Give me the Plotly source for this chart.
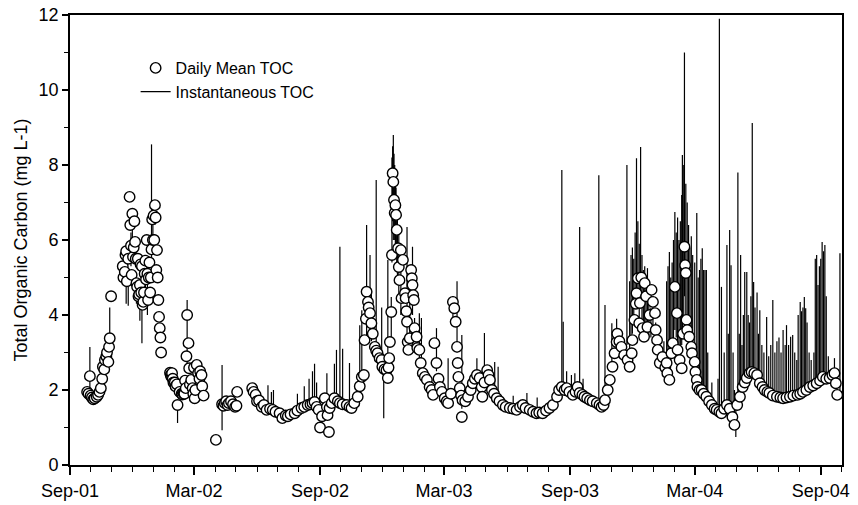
import plotly.graph_objects as go

# ---------------- Daily mean TOC (mg L-1) ----------------
mean_fall_2001 = [
    ("2001-09-26", 1.95), ("2001-09-28", 1.9), ("2001-09-30", 2.37), ("2001-10-01", 1.85),
    ("2001-10-03", 1.8), ("2001-10-05", 1.75), ("2001-10-07", 1.78), ("2001-10-10", 1.82),
    ("2001-10-12", 1.87), ("2001-10-14", 1.95), ("2001-10-16", 2.05), ("2001-10-18", 2.3),
    ("2001-10-19", 2.62), ("2001-10-21", 2.55), ("2001-10-22", 2.8), ("2001-10-24", 2.9),
    ("2001-10-25", 3.0), ("2001-10-27", 2.75), ("2001-10-28", 3.15), ("2001-10-29", 3.38),
    ("2001-10-31", 4.5),
]
mean_winter_2001 = [
    ("2001-11-17", 5.3), ("2001-11-18", 5.0), ("2001-11-20", 5.15), ("2001-11-21", 5.6),
    ("2001-11-22", 5.7), ("2001-11-23", 4.9), ("2001-11-25", 5.5), ("2001-11-27", 7.15),
    ("2001-11-28", 6.4), ("2001-11-29", 5.85), ("2001-11-30", 5.07), ("2001-12-01", 6.7),
    ("2001-12-02", 5.55), ("2001-12-03", 5.8), ("2001-12-04", 6.5), ("2001-12-05", 5.95),
    ("2001-12-06", 5.5), ("2001-12-07", 4.85), ("2001-12-08", 4.75), ("2001-12-09", 5.5),
    ("2001-12-10", 4.5), ("2001-12-11", 4.55), ("2001-12-12", 4.8), ("2001-12-13", 5.35),
    ("2001-12-14", 4.6), ("2001-12-15", 5.3), ("2001-12-16", 4.27), ("2001-12-17", 4.35),
    ("2001-12-18", 4.6), ("2001-12-19", 5.1), ("2001-12-20", 5.45), ("2001-12-21", 4.95),
    ("2001-12-22", 6.0), ("2001-12-23", 5.1), ("2001-12-24", 4.4), ("2001-12-25", 5.0),
    ("2001-12-26", 5.4), ("2001-12-27", 4.6), ("2001-12-28", 5.0), ("2001-12-29", 5.75),
    ("2001-12-30", 6.55), ("2001-12-31", 6.0), ("2002-01-01", 6.65), ("2002-01-02", 6.0),
    ("2002-01-03", 6.93), ("2002-01-04", 6.6), ("2002-01-05", 5.2), ("2002-01-06", 5.73),
    ("2002-01-07", 5.0), ("2002-01-08", 4.4), ("2002-01-09", 3.95), ("2002-01-10", 3.65),
    ("2002-01-11", 3.4), ("2002-01-12", 3.0),
]
mean_spring_2002 = [
    ("2002-01-25", 2.46), ("2002-01-26", 2.4), ("2002-01-27", 2.35), ("2002-01-28", 2.45),
    ("2002-01-29", 2.3), ("2002-01-30", 2.2), ("2002-02-01", 2.2), ("2002-02-02", 2.1),
    ("2002-02-04", 2.15), ("2002-02-05", 1.6), ("2002-02-08", 1.95), ("2002-02-11", 1.9),
    ("2002-02-12", 1.88), ("2002-02-14", 1.9), ("2002-02-15", 1.9), ("2002-02-16", 2.25),
    ("2002-02-17", 2.05), ("2002-02-18", 2.9), ("2002-02-19", 4.0), ("2002-02-21", 3.25),
    ("2002-02-22", 2.58), ("2002-02-23", 2.15), ("2002-02-25", 2.27), ("2002-02-27", 2.05),
    ("2002-02-28", 1.9), ("2002-03-01", 2.6), ("2002-03-02", 1.78), ("2002-03-03", 2.0),
    ("2002-03-05", 2.67), ("2002-03-07", 2.45), ("2002-03-09", 2.3), ("2002-03-10", 2.5),
    ("2002-03-12", 2.4), ("2002-03-13", 2.1), ("2002-03-15", 1.85),
    ("2002-04-02", 0.67),
    ("2002-04-11", 1.62), ("2002-04-13", 1.58), ("2002-04-15", 1.65), ("2002-04-17", 1.7),
    ("2002-04-19", 1.6), ("2002-04-21", 1.65), ("2002-04-24", 1.7), ("2002-04-27", 1.62),
    ("2002-04-30", 1.55), ("2002-05-02", 1.58), ("2002-05-03", 1.95),
]
mean_2002 = [
    ("2002-05-25", 2.05), ("2002-05-27", 1.95), ("2002-05-30", 1.87), ("2002-06-01", 1.7),
    ("2002-06-04", 1.72), ("2002-06-08", 1.55), ("2002-06-11", 1.6), ("2002-06-15", 1.47),
    ("2002-06-20", 1.5), ("2002-06-24", 1.47), ("2002-06-28", 1.42), ("2002-07-04", 1.38),
    ("2002-07-08", 1.25), ("2002-07-13", 1.32), ("2002-07-16", 1.3), ("2002-07-20", 1.35),
    ("2002-07-26", 1.38), ("2002-07-30", 1.45), ("2002-08-05", 1.52), ("2002-08-09", 1.55),
    ("2002-08-14", 1.6), ("2002-08-18", 1.62), ("2002-08-21", 1.65), ("2002-08-24", 1.68),
    ("2002-08-27", 1.55), ("2002-08-30", 1.47), ("2002-09-01", 1.0), ("2002-09-04", 1.3),
    ("2002-09-08", 1.78), ("2002-09-11", 1.55), ("2002-09-12", 1.33), ("2002-09-14", 0.88),
    ("2002-09-15", 1.52), ("2002-09-18", 1.65), ("2002-09-22", 1.78), ("2002-09-27", 1.7),
    ("2002-09-30", 1.65), ("2002-10-04", 1.62), ("2002-10-10", 1.6), ("2002-10-14", 1.55),
    ("2002-10-17", 1.52), ("2002-10-21", 1.65), ("2002-10-26", 1.82), ("2002-10-29", 2.1),
    ("2002-11-01", 2.35), ("2002-11-04", 2.4), ("2002-11-05", 3.33), ("2002-11-07", 3.9),
    ("2002-11-08", 4.62), ("2002-11-10", 4.35), ("2002-11-11", 4.2), ("2002-11-13", 4.05),
    ("2002-11-15", 3.78), ("2002-11-17", 3.5), ("2002-11-20", 3.15), ("2002-11-22", 3.05),
    ("2002-11-24", 2.98), ("2002-11-27", 2.85), ("2002-11-30", 2.8), ("2002-12-01", 2.62),
    ("2002-12-04", 2.55), ("2002-12-07", 2.53), ("2002-12-09", 2.32), ("2002-12-10", 2.6),
    ("2002-12-11", 2.85), ("2002-12-12", 3.28), ("2002-12-14", 4.08), ("2002-12-15", 5.6),
    ("2002-12-16", 7.78), ("2002-12-17", 7.55), ("2002-12-18", 7.07), ("2002-12-19", 6.72),
    ("2002-12-20", 6.93), ("2002-12-21", 6.67), ("2002-12-22", 6.27), ("2002-12-24", 5.78),
    ("2002-12-25", 5.28), ("2002-12-26", 4.93), ("2002-12-28", 5.73), ("2002-12-29", 4.45),
    ("2002-12-31", 5.47),
]
mean_2003 = [
    ("2003-01-03", 4.58), ("2003-01-04", 4.45), ("2003-01-05", 4.1), ("2003-01-06", 3.82),
    ("2003-01-07", 3.28), ("2003-01-08", 3.07), ("2003-01-10", 3.38), ("2003-01-12", 5.2),
    ("2003-01-13", 4.98), ("2003-01-14", 4.8), ("2003-01-15", 4.53), ("2003-01-16", 4.4),
    ("2003-01-17", 3.65), ("2003-01-20", 3.42), ("2003-01-21", 3.12), ("2003-01-24", 3.07),
    ("2003-01-26", 2.72), ("2003-01-29", 2.45), ("2003-02-01", 2.35), ("2003-02-04", 2.27),
    ("2003-02-08", 2.08), ("2003-02-11", 2.0), ("2003-02-13", 1.87), ("2003-02-15", 3.25),
    ("2003-02-18", 2.72), ("2003-02-21", 2.3), ("2003-02-23", 2.08), ("2003-02-26", 1.95),
    ("2003-03-02", 1.78), ("2003-03-05", 1.7), ("2003-03-07", 1.65), ("2003-03-11", 1.9),
    ("2003-03-14", 4.35), ("2003-03-16", 4.18), ("2003-03-18", 3.82), ("2003-03-20", 3.15),
    ("2003-03-21", 2.72), ("2003-03-22", 2.35), ("2003-03-24", 2.05), ("2003-03-26", 1.85),
    ("2003-03-27", 1.28), ("2003-03-28", 1.73), ("2003-04-01", 1.7), ("2003-04-05", 1.82),
    ("2003-04-09", 2.0), ("2003-04-12", 2.18), ("2003-04-15", 2.3), ("2003-04-18", 2.4),
    ("2003-04-22", 2.32), ("2003-04-25", 2.08), ("2003-04-26", 1.82), ("2003-04-29", 2.2),
    ("2003-05-03", 2.53), ("2003-05-05", 2.4), ("2003-05-07", 2.27), ("2003-05-10", 2.0),
    ("2003-05-13", 1.9), ("2003-05-17", 1.78), ("2003-05-21", 1.7), ("2003-05-26", 1.6),
    ("2003-05-30", 1.55), ("2003-06-05", 1.52), ("2003-06-10", 1.5), ("2003-06-15", 1.47),
    ("2003-06-20", 1.55), ("2003-06-24", 1.6), ("2003-06-28", 1.52), ("2003-07-04", 1.47),
    ("2003-07-09", 1.42), ("2003-07-14", 1.38), ("2003-07-18", 1.4), ("2003-07-23", 1.38),
    ("2003-07-28", 1.45), ("2003-08-02", 1.52), ("2003-08-07", 1.6), ("2003-08-13", 1.82),
    ("2003-08-16", 2.0), ("2003-08-20", 2.08), ("2003-08-24", 2.0), ("2003-08-27", 2.05),
    ("2003-08-31", 1.95), ("2003-09-05", 1.87), ("2003-09-09", 1.95), ("2003-09-12", 2.08),
    ("2003-09-15", 1.92), ("2003-09-19", 1.87), ("2003-09-22", 1.82), ("2003-09-26", 1.78),
    ("2003-09-30", 1.73), ("2003-10-04", 1.7), ("2003-10-10", 1.65), ("2003-10-14", 1.6),
    ("2003-10-17", 1.55), ("2003-10-20", 1.6), ("2003-10-22", 1.73), ("2003-10-26", 2.0),
    ("2003-10-29", 2.27), ("2003-11-02", 2.62), ("2003-11-05", 2.98), ("2003-11-08", 3.28),
    ("2003-11-09", 3.5), ("2003-11-12", 3.3), ("2003-11-15", 3.15), ("2003-11-19", 2.93),
    ("2003-11-24", 2.8), ("2003-11-27", 2.62), ("2003-11-30", 2.98), ("2003-12-01", 3.33),
    ("2003-12-04", 3.87), ("2003-12-06", 4.3), ("2003-12-07", 4.58), ("2003-12-09", 4.98),
    ("2003-12-11", 3.78), ("2003-12-12", 4.32), ("2003-12-14", 5.0), ("2003-12-16", 3.65),
    ("2003-12-18", 3.42), ("2003-12-19", 4.85), ("2003-12-21", 4.5), ("2003-12-23", 3.68),
    ("2003-12-26", 4.0), ("2003-12-29", 4.67), ("2003-12-31", 4.35),
]
mean_2004 = [
    ("2004-01-03", 4.05), ("2004-01-04", 3.6), ("2004-01-06", 3.33), ("2004-01-07", 3.07),
    ("2004-01-10", 2.72), ("2004-01-14", 2.88), ("2004-01-18", 2.6), ("2004-01-20", 2.72),
    ("2004-01-21", 2.45), ("2004-01-24", 2.27), ("2004-01-27", 2.98), ("2004-01-29", 3.25),
    ("2004-02-01", 4.75), ("2004-02-04", 4.05), ("2004-02-05", 3.07), ("2004-02-08", 2.8),
    ("2004-02-11", 2.58), ("2004-02-13", 3.5), ("2004-02-15", 5.82), ("2004-02-16", 5.33),
    ("2004-02-17", 5.12), ("2004-02-18", 3.87), ("2004-02-19", 3.6), ("2004-02-22", 3.42),
    ("2004-02-25", 3.15), ("2004-02-26", 2.98), ("2004-03-01", 2.75), ("2004-03-02", 2.48),
    ("2004-03-04", 2.27), ("2004-03-05", 2.08), ("2004-03-08", 2.0), ("2004-03-11", 2.0),
    ("2004-03-14", 1.9), ("2004-03-18", 1.82), ("2004-03-22", 1.7), ("2004-03-26", 1.6),
    ("2004-03-30", 1.5), ("2004-04-02", 1.47), ("2004-04-06", 1.42), ("2004-04-09", 1.38),
    ("2004-04-13", 1.5), ("2004-04-17", 1.6), ("2004-04-21", 1.5), ("2004-04-25", 1.28),
    ("2004-04-28", 1.07), ("2004-05-02", 1.6), ("2004-05-06", 1.82), ("2004-05-10", 2.08),
    ("2004-05-13", 2.2), ("2004-05-16", 2.32), ("2004-05-20", 2.45), ("2004-05-23", 2.48),
    ("2004-05-27", 2.45), ("2004-05-31", 2.4), ("2004-06-04", 2.18), ("2004-06-08", 2.08),
    ("2004-06-11", 2.0), ("2004-06-15", 1.95), ("2004-06-18", 1.92), ("2004-06-23", 1.85),
    ("2004-06-29", 1.82), ("2004-07-04", 1.8), ("2004-07-08", 1.78), ("2004-07-13", 1.8),
    ("2004-07-18", 1.82), ("2004-07-23", 1.85), ("2004-07-29", 1.87), ("2004-08-02", 1.9),
    ("2004-08-06", 1.95), ("2004-08-11", 2.0), ("2004-08-16", 2.08), ("2004-08-21", 2.12),
    ("2004-08-26", 2.18), ("2004-08-31", 2.25), ("2004-09-04", 2.35), ("2004-09-09", 2.3),
    ("2004-09-14", 2.32), ("2004-09-18", 2.4), ("2004-09-21", 2.45), ("2004-09-23", 2.18),
    ("2004-09-25", 1.87),
]

# ------------- Instantaneous TOC: (date, daily min, daily max), mg L-1 -------------
inst_2001_2002 = [
    ("2001-09-30", 1.95, 3.15), ("2001-10-29", 3.3, 4.2), ("2001-11-22", 4.3, 5.4),
    ("2001-11-25", 4.25, 5.1), ("2001-11-29", 5.3, 6.2), ("2001-12-01", 5.9, 6.8),
    ("2001-12-07", 4.3, 5.0), ("2001-12-12", 3.85, 4.8), ("2001-12-15", 3.25, 4.3),
    ("2001-12-20", 4.6, 5.6), ("2001-12-23", 4.0, 5.0), ("2001-12-29", 5.5, 8.55),
    ("2001-12-31", 5.6, 6.5), ("2002-01-03", 6.4, 7.0),
    ("2002-02-02", 2.1, 2.4), ("2002-02-05", 1.12, 1.7), ("2002-02-19", 2.6, 4.4),
    ("2002-04-11", 0.93, 2.67), ("2002-06-17", 1.5, 2.13), ("2002-06-22", 1.45, 1.95),
    ("2002-06-25", 1.45, 2.0), ("2002-07-30", 1.4, 1.9), ("2002-08-09", 1.55, 2.1),
    ("2002-08-16", 1.6, 2.3), ("2002-08-21", 1.65, 2.5), ("2002-08-24", 1.65, 2.7),
    ("2002-08-27", 1.5, 2.2), ("2002-09-11", 1.5, 2.45), ("2002-09-22", 1.7, 2.7),
    ("2002-09-25", 1.7, 3.07), ("2002-09-30", 1.65, 5.82), ("2002-10-04", 1.6, 3.1),
    ("2002-10-14", 1.55, 2.72), ("2002-10-29", 1.9, 3.73), ("2002-11-01", 2.3, 4.13),
    ("2002-11-08", 3.3, 6.4), ("2002-11-13", 3.5, 5.6), ("2002-11-15", 3.3, 4.7),
    ("2002-11-22", 2.9, 7.6), ("2002-11-30", 2.5, 4.2), ("2002-12-03", 1.25, 2.8),
    ("2002-12-09", 2.3, 5.47), ("2002-12-14", 3.3, 4.48), ("2002-12-15", 5.4, 8.2),
    ("2002-12-16", 6.5, 8.5), ("2002-12-17", 6.0, 8.8), ("2002-12-18", 6.2, 8.3),
    ("2002-12-19", 6.0, 8.0), ("2002-12-20", 5.8, 7.6), ("2002-12-21", 5.5, 7.4),
    ("2002-12-22", 5.2, 7.0), ("2002-12-23", 5.0, 6.8), ("2002-12-25", 4.5, 6.27),
    ("2002-12-28", 4.0, 5.9),
]
inst_2003 = [
    ("2003-01-06", 3.0, 6.35), ("2003-01-10", 3.0, 4.85), ("2003-01-14", 4.0, 5.82),
    ("2003-01-17", 3.3, 3.92), ("2003-01-24", 2.8, 4.05), ("2003-01-27", 2.5, 3.92),
    ("2003-02-18", 2.5, 3.65), ("2003-03-07", 1.7, 2.85), ("2003-03-14", 3.9, 4.5),
    ("2003-03-20", 3.0, 4.9), ("2003-03-27", 1.5, 3.47), ("2003-04-18", 2.2, 2.85),
    ("2003-04-29", 2.2, 3.52), ("2003-05-14", 1.8, 2.75), ("2003-05-19", 1.7, 2.62),
    ("2003-06-10", 1.5, 1.85), ("2003-06-30", 1.4, 1.92), ("2003-07-15", 1.4, 1.8),
    ("2003-08-20", 2.1, 7.87), ("2003-08-22", 2.1, 3.82), ("2003-08-27", 2.0, 2.5),
    ("2003-09-03", 1.9, 2.4), ("2003-09-08", 1.9, 2.45), ("2003-09-15", 1.9, 6.35),
    ("2003-09-20", 1.8, 2.3), ("2003-10-13", 1.7, 7.73), ("2003-10-22", 1.7, 4.27),
    ("2003-11-01", 2.5, 3.78), ("2003-11-08", 3.0, 3.9), ("2003-11-23", 3.2, 8.0),
    ("2003-11-27", 3.0, 4.9), ("2003-11-29", 3.2, 5.6), ("2003-12-01", 3.5, 5.8),
    ("2003-12-03", 3.8, 5.5), ("2003-12-05", 4.2, 6.2), ("2003-12-07", 4.5, 8.18),
    ("2003-12-09", 4.2, 6.5), ("2003-12-11", 3.8, 5.9), ("2003-12-13", 4.5, 8.48),
    ("2003-12-15", 3.9, 5.6), ("2003-12-17", 3.6, 5.2), ("2003-12-19", 3.8, 5.3),
    ("2003-12-21", 3.6, 4.8), ("2003-12-23", 3.5, 5.25), ("2003-12-25", 3.4, 4.4),
    ("2003-12-28", 3.4, 4.2), ("2003-12-31", 3.5, 4.5),
]
inst_2004 = [
    ("2004-01-04", 3.0, 3.8), ("2004-01-10", 2.6, 3.4), ("2004-01-16", 2.6, 3.3),
    ("2004-01-20", 2.5, 4.9), ("2004-01-22", 2.6, 5.3), ("2004-01-24", 2.6, 5.68),
    ("2004-01-26", 2.8, 5.0), ("2004-01-28", 3.0, 5.4), ("2004-01-30", 3.2, 6.0),
    ("2004-02-01", 3.6, 6.75), ("2004-02-03", 3.4, 6.2), ("2004-02-05", 3.0, 6.6),
    ("2004-02-07", 2.9, 6.0), ("2004-02-09", 2.8, 6.5), ("2004-02-11", 3.2, 7.2),
    ("2004-02-12", 3.5, 8.27), ("2004-02-14", 4.0, 8.0), ("2004-02-15", 4.5, 11.0),
    ("2004-02-17", 4.0, 7.5), ("2004-02-19", 3.5, 7.0), ("2004-02-21", 3.3, 6.4),
    ("2004-02-23", 3.0, 5.8), ("2004-02-25", 3.0, 6.1), ("2004-02-27", 2.9, 5.6),
    ("2004-03-01", 2.6, 5.4), ("2004-03-04", 2.4, 6.72), ("2004-03-06", 2.2, 5.0),
    ("2004-03-08", 2.1, 5.2), ("2004-03-10", 2.0, 5.5), ("2004-03-12", 2.0, 5.78),
    ("2004-03-14", 1.9, 5.2), ("2004-03-16", 1.9, 5.2), ("2004-03-18", 1.8, 5.2),
    ("2004-03-20", 1.8, 3.0), ("2004-03-26", 1.6, 2.2), ("2004-04-04", 1.5, 2.3),
    ("2004-04-06", 1.4, 11.9), ("2004-04-09", 1.4, 4.75), ("2004-04-13", 1.5, 3.0),
    ("2004-04-17", 1.5, 5.87), ("2004-04-19", 1.6, 3.5), ("2004-04-21", 1.5, 6.27),
    ("2004-04-23", 1.4, 5.33), ("2004-04-26", 1.3, 3.0), ("2004-04-28", 1.0, 2.0),
    ("2004-04-30", 0.75, 1.8), ("2004-05-03", 1.6, 7.8), ("2004-05-05", 1.7, 3.5),
    ("2004-05-07", 1.8, 5.6), ("2004-05-09", 1.9, 3.2), ("2004-05-11", 2.0, 4.0),
    ("2004-05-13", 2.1, 5.15), ("2004-05-16", 2.2, 5.15), ("2004-05-18", 2.3, 4.0),
    ("2004-05-20", 2.3, 3.8), ("2004-05-22", 2.3, 4.5), ("2004-05-24", 2.3, 9.12),
    ("2004-05-26", 2.3, 4.88), ("2004-05-28", 2.3, 4.2), ("2004-05-31", 2.2, 4.6),
    ("2004-06-02", 2.1, 3.5), ("2004-06-04", 2.1, 4.13), ("2004-06-07", 2.0, 3.2),
    ("2004-06-10", 1.9, 3.0), ("2004-06-14", 1.9, 3.95), ("2004-06-17", 1.8, 2.9),
    ("2004-06-20", 1.8, 3.2), ("2004-06-23", 1.8, 4.4), ("2004-06-26", 1.8, 3.0),
    ("2004-06-29", 1.8, 3.3), ("2004-07-02", 1.8, 3.4), ("2004-07-05", 1.8, 3.0),
    ("2004-07-08", 1.8, 3.6), ("2004-07-11", 1.8, 3.2), ("2004-07-13", 1.8, 3.73),
    ("2004-07-16", 1.8, 3.2), ("2004-07-19", 1.8, 3.42), ("2004-07-22", 1.8, 3.47),
    ("2004-07-25", 1.8, 3.0), ("2004-07-28", 1.9, 2.8), ("2004-07-30", 1.9, 4.0),
    ("2004-08-02", 1.9, 4.35), ("2004-08-04", 1.9, 4.1), ("2004-08-06", 1.9, 4.2),
    ("2004-08-08", 2.0, 4.48), ("2004-08-10", 2.0, 4.18), ("2004-08-12", 2.0, 3.8),
    ("2004-08-15", 2.0, 3.0), ("2004-08-18", 2.1, 2.8), ("2004-08-22", 2.1, 3.0),
    ("2004-08-24", 2.1, 5.5), ("2004-08-26", 2.1, 5.6), ("2004-08-28", 2.2, 4.8),
    ("2004-08-30", 2.2, 5.3), ("2004-09-01", 2.2, 5.5), ("2004-09-03", 2.3, 5.95),
    ("2004-09-05", 2.3, 5.7), ("2004-09-07", 2.3, 5.87), ("2004-09-09", 2.3, 4.5),
    ("2004-09-12", 2.2, 2.9), ("2004-09-21", 2.2, 2.85), ("2004-09-29", 2.0, 5.65),
]

# ---------------- Build traces from the data ----------------
mean_all = mean_fall_2001 + mean_winter_2001 + mean_spring_2002 + mean_2002 + mean_2003 + mean_2004
mean_x = [d for d, v in mean_all]
mean_y = [v for d, v in mean_all]

inst_all = inst_2001_2002 + inst_2003 + inst_2004
inst_x, inst_y = [], []
for d, lo, hi in inst_all:
    inst_x += [d, d, None]
    inst_y += [lo, hi, None]

fig = go.Figure()
# instantaneous lines first so the circles sit on top
fig.add_trace(go.Scatter(
    x=inst_x, y=inst_y, mode="lines", name="Instantaneous TOC",
    line=dict(color="black", width=1.2), connectgaps=False,
))
fig.add_trace(go.Scatter(
    x=mean_x, y=mean_y, mode="markers", name="Daily Mean TOC",
    marker=dict(symbol="circle", size=10.5, color="white", line=dict(color="black", width=1.4)),
))

fig.update_layout(
    width=858, height=505,
    margin=dict(l=70, r=16, t=15, b=40),
    paper_bgcolor="white", plot_bgcolor="white",
    font=dict(family="Liberation Sans, Arial, sans-serif", color="black", size=18),
    showlegend=True,
    legend=dict(x=0.085, y=0.92, xanchor="left", yanchor="top",
                bgcolor="rgba(0,0,0,0)", font=dict(size=16), traceorder="reversed",
                itemwidth=30, tracegroupgap=0),
)
fig.update_xaxes(
    type="date", range=["2001-09-01", "2004-10-02"], automargin=False,
    tickformat="%b-%y", dtick="M6", tick0="2001-09-01",
    ticks="outside", ticklen=8, tickwidth=1.5, tickcolor="black",
    showline=True, linecolor="black", linewidth=1.8, mirror=True,
    showgrid=False, zeroline=False, tickfont=dict(size=18),
    minor=dict(dtick="M1", tick0="2001-09-01", ticks="outside", ticklen=5,
               tickwidth=1.2, tickcolor="black", showgrid=False),
)
fig.update_yaxes(
    range=[0, 12], dtick=2, tick0=0, automargin=False,
    ticks="outside", ticklen=6, tickwidth=1.5, tickcolor="black",
    showline=True, linecolor="black", linewidth=1.8, mirror=True,
    showgrid=False, zeroline=False, tickfont=dict(size=18),
    title=dict(text="Total Organic Carbon (mg L-1)", font=dict(size=18), standoff=6),
    minor=dict(dtick=1, ticks="outside", ticklen=4, tickwidth=1.2, tickcolor="black",
               showgrid=False),
)

fig.write_html("out.html")
